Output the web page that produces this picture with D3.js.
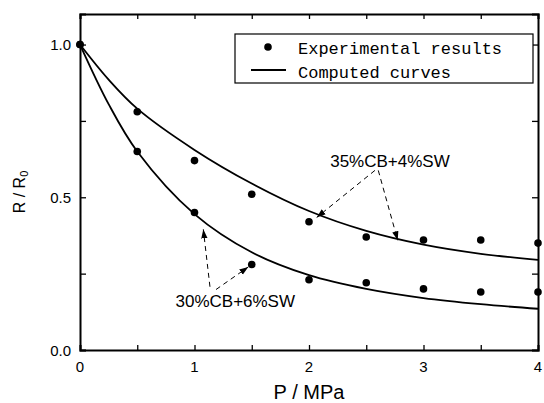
<!DOCTYPE html>
<html>
<head>
<meta charset="utf-8">
<script src="https://cdn.jsdelivr.net/npm/d3@7"></script>
<style>
  body { margin: 0; background: #fff; }
  svg { display: block; }
</style>
</head>
<body>
<div id="container"></div>
<script>
/* DATA */
const pressure = [0, 0.5, 1, 1.5, 2, 2.5, 3, 3.5, 4];
const exp35 = [1.0, 0.78, 0.62, 0.51, 0.42, 0.37, 0.36, 0.36, 0.35];
const exp30 = [1.0, 0.65, 0.45, 0.28, 0.23, 0.22, 0.20, 0.19, 0.19];

const curveP = [0, 0.25, 0.5, 1, 1.5, 2, 2.5, 3, 3.5, 4];
const fit35 = [1.0, 0.885, 0.79, 0.655, 0.545, 0.455, 0.39, 0.345, 0.315, 0.295];
const fit30 = [1.0, 0.805, 0.65, 0.445, 0.32, 0.245, 0.20, 0.17, 0.15, 0.135];

const xTicks = [0, 1, 2, 3, 4];
const yTicks = [0.0, 0.5, 1.0];
const legendLabels = ["Experimental results", "Computed curves"];
const seriesLabels = ["35%CB+4%SW", "30%CB+6%SW"];

/* SIZE */
const W = 544, H = 403;
const margin = {top: 14, right: 6, bottom: 53, left: 80},
  width = W - margin.left - margin.right,
  height = H - margin.top - margin.bottom;

const svg = d3.select("#container")
  .append("svg")
  .attr("width", W)
  .attr("height", H)
  .append("g")
  .attr("transform", "translate(" + margin.left + "," + margin.top + ")");

/* SCALES */
const x = d3.scaleLinear().domain([0, 4]).range([0, width]);
const y = d3.scaleLinear().domain([0, 1.1]).range([height, 0]);

const xMinor = d3.range(0, 4.01, 0.5);
const yMinor = d3.range(0, 1.11, 0.25);

// axes, ticks pointing inward, mirrored on top and right
svg.append("g")
  .attr("transform", "translate(0," + height + ")")
  .call(d3.axisBottom(x).tickValues(xMinor).tickSize(-5).tickFormat(""));
svg.append("g")
  .call(d3.axisTop(x).tickValues(xMinor).tickSize(-5).tickFormat(""));
svg.append("g")
  .call(d3.axisLeft(y).tickValues(yMinor).tickSize(-6).tickFormat(""));
svg.append("g")
  .attr("transform", "translate(" + width + ",0)")
  .call(d3.axisRight(y).tickValues(yMinor).tickSize(-6).tickFormat(""));

svg.selectAll(".domain").attr("stroke", "#000").attr("stroke-width", 2);
svg.selectAll(".tick line").attr("stroke", "#000").attr("stroke-width", 1.3);

// tick labels
svg.append("g").selectAll("text")
  .data(xTicks)
  .join("text")
  .attr("x", d => x(d))
  .attr("y", height + 21.5)
  .attr("text-anchor", "middle")
  .style("font", "15px 'Liberation Sans', Arial, sans-serif")
  .text(d => d);

svg.append("g").selectAll("text")
  .data(yTicks)
  .join("text")
  .attr("x", -9)
  .attr("y", d => y(d) + 5.5)
  .attr("text-anchor", "end")
  .style("font", "15px 'Liberation Sans', Arial, sans-serif")
  .text(d => d.toFixed(1));

// axis titles
svg.append("text")
  .attr("x", width / 2)
  .attr("y", height + 49)
  .attr("text-anchor", "middle")
  .style("font", "20px 'Liberation Sans', Arial, sans-serif")
  .text("P / MPa");

const yt = svg.append("text")
  .attr("transform", "translate(" + (-55) + "," + 178 + ")rotate(-90)")
  .attr("text-anchor", "middle")
  .style("font", "16px 'Liberation Sans', Arial, sans-serif");
yt.append("tspan").text("R / R");
yt.append("tspan").attr("dy", 3).style("font-size", "11px").text("0");

/* CURVES */
const line = d3.line()
  .x(d => x(d[0]))
  .y(d => y(d[1]))
  .curve(d3.curveCatmullRom.alpha(0.5));

[fit35, fit30].forEach(vals => {
  svg.append("path")
    .datum(curveP.map((p, i) => [p, vals[i]]))
    .attr("d", line)
    .attr("fill", "none")
    .attr("stroke", "#000")
    .attr("stroke-width", 1.8);
});

/* POINTS */
[exp35, exp30].forEach(vals => {
  svg.append("g").selectAll("circle")
    .data(pressure.map((p, i) => [p, vals[i]]))
    .join("circle")
    .attr("cx", d => x(d[0]))
    .attr("cy", d => y(d[1]))
    .attr("r", 3.8)
    .attr("fill", "#000");
});

/* ANNOTATIONS (data units) */
svg.append("defs").append("marker")
  .attr("id", "arr")
  .attr("viewBox", "0 0 10 10")
  .attr("refX", 10).attr("refY", 5)
  .attr("markerWidth", 9).attr("markerHeight", 9)
  .attr("markerUnits", "userSpaceOnUse")
  .attr("orient", "auto")
  .append("path")
  .attr("d", "M0,1.5L10,5L0,8.5Z")
  .attr("fill", "#000");

const arrows = [
  [[2.576, 0.588], [2.067, 0.434]],
  [[2.605, 0.588], [2.775, 0.359]],
  [[1.135, 0.207], [1.077, 0.395]],
  [[1.188, 0.198], [1.47, 0.272]]
];
svg.append("g").selectAll("line")
  .data(arrows)
  .join("line")
  .attr("x1", d => x(d[0][0])).attr("y1", d => y(d[0][1]))
  .attr("x2", d => x(d[1][0])).attr("y2", d => y(d[1][1]))
  .attr("stroke", "#000")
  .attr("stroke-width", 1)
  .attr("stroke-dasharray", "5,4")
  .attr("marker-end", "url(#arr)");

const labelPos = [[2.707, 0.599], [1.356, 0.1415]];
svg.append("g").selectAll("text")
  .data(seriesLabels)
  .join("text")
  .attr("x", (d, i) => x(labelPos[i][0]))
  .attr("y", (d, i) => y(labelPos[i][1]))
  .attr("text-anchor", "middle")
  .style("font", "17px 'Liberation Sans', Arial, sans-serif")
  .text(d => d);

/* LEGEND */
const lg = svg.append("g").attr("transform", "translate(155,20)");
lg.append("rect")
  .attr("width", 298).attr("height", 49)
  .attr("fill", "#fff")
  .attr("stroke", "#000")
  .attr("stroke-width", 1.2);
lg.append("circle").attr("cx", 33).attr("cy", 13).attr("r", 3.8).attr("fill", "#000");
lg.append("line")
  .attr("x1", 16).attr("x2", 51)
  .attr("y1", 36).attr("y2", 36)
  .attr("stroke", "#000").attr("stroke-width", 1.8);
lg.selectAll("text.lg")
  .data(legendLabels)
  .join("text")
  .attr("class", "lg")
  .attr("x", 63)
  .attr("y", (d, i) => 20 + i * 24)
  .style("font", "17px 'Liberation Mono', 'Courier New', monospace")
  .text(d => d);
</script>
</body>
</html>
